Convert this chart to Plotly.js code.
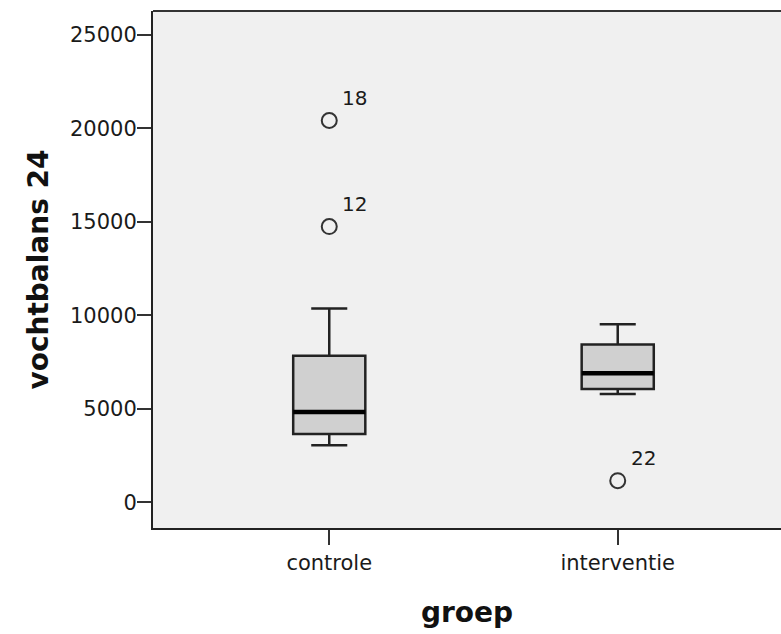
<!DOCTYPE html>
<html>
<head>
<meta charset="utf-8">
<script src="https://cdn.plot.ly/plotly-3.0.1.min.js"></script>
<style>html,body{margin:0;padding:0;background:#fff;}#chart{width:781px;height:634px;}</style>
</head>
<body>
<div id="chart"></div>
<script>
const categories = ["controle", "interventie"];
const lowerWhisker = [3048, 5797];
const q1 = [3658, 6065];
const median = [4834, 6899];
const q3 = [7845, 8434];
const upperWhisker = [10359, 9519];
const outlierGroup = [0, 0, 1];
const outlierValues = [20413, 14744, 1160];
const outlierLabels = ["18", "12", "22"];
const yTicks = [0, 5000, 10000, 15000, 20000, 25000];
const yTickLabels = ["0", "5000", "10000", "15000", "20000", "25000"];

const xPos = categories.map((c, i) => i);
const boxHalf = 0.125;
const lineCol = "#222";
const FONT = "DejaVu Sans, Verdana, sans-serif";

const traces = [
  {
    type: "box",
    x: xPos,
    q1: q1, median: median, q3: q3,
    lowerfence: lowerWhisker, upperfence: upperWhisker,
    width: 2 * boxHalf,
    whiskerwidth: 0.5,
    fillcolor: "#d0d0d0",
    line: {color: lineCol, width: 2.5},
    boxpoints: false,
    hoverinfo: "skip",
    showlegend: false
  }
];
categories.forEach((c, i) => {
  traces.push({
    type: "scatter", mode: "lines",
    x: [xPos[i] - boxHalf, xPos[i] + boxHalf],
    y: [median[i], median[i]],
    line: {color: "#000", width: 4.5},
    hoverinfo: "skip", showlegend: false
  });
});
traces.push({
  type: "scatter", mode: "markers",
  x: outlierGroup.map(g => xPos[g]),
  y: outlierValues,
  marker: {symbol: "circle-open", size: 15, color: "#333", line: {width: 2, color: "#333"}},
  hoverinfo: "skip", showlegend: false
});

const annotations = outlierValues.map((v, i) => ({
  x: xPos[outlierGroup[i]], y: v, xref: "x", yref: "y",
  text: outlierLabels[i], showarrow: false,
  xanchor: "left", yanchor: "middle",
  xshift: 11, yshift: 23,
  font: {family: FONT, size: 20, color: "#1a1a1a"}
}));

const layout = {
  width: 781, height: 634,
  margin: {l: 153, r: 0, t: 11, b: 106},
  paper_bgcolor: "#ffffff",
  plot_bgcolor: "#f0f0f0",
  showlegend: false,
  xaxis: {
    range: [-0.611, 1.566],
    tickmode: "array", tickvals: xPos, ticktext: categories,
    showgrid: false, zeroline: false,
    showline: true, linecolor: "#222", linewidth: 2, mirror: false,
    ticks: "outside", ticklen: 15, tickwidth: 2, tickcolor: "#333",
    tickfont: {family: FONT, size: 21, color: "#1a1a1a"},
    title: {text: "groep", standoff: 28, font: {family: FONT, size: 28, color: "#111", weight: "bold"}}
  },
  yaxis: {
    range: [-1369, 26267],
    tickmode: "array", tickvals: yTicks, ticktext: yTickLabels,
    showgrid: false, zeroline: false,
    showline: true, linecolor: "#222", linewidth: 2,
    ticks: "outside", ticklen: 14, tickwidth: 2, tickcolor: "#333",
    ticklabelstandoff: -4,
    tickfont: {family: FONT, size: 21, color: "#1a1a1a"},
    title: {text: "vochtbalans 24", standoff: 13, font: {family: FONT, size: 28, color: "#111", weight: "bold"}}
  },
  shapes: [
    {type: "line", xref: "paper", yref: "paper", x0: 0, x1: 1, y0: 1, y1: 1, line: {color: "#333", width: 2}}
  ],
  annotations: annotations
};

Plotly.newPlot("chart", traces, layout, {staticPlot: true, displayModeBar: false});
</script>
</body>
</html>
